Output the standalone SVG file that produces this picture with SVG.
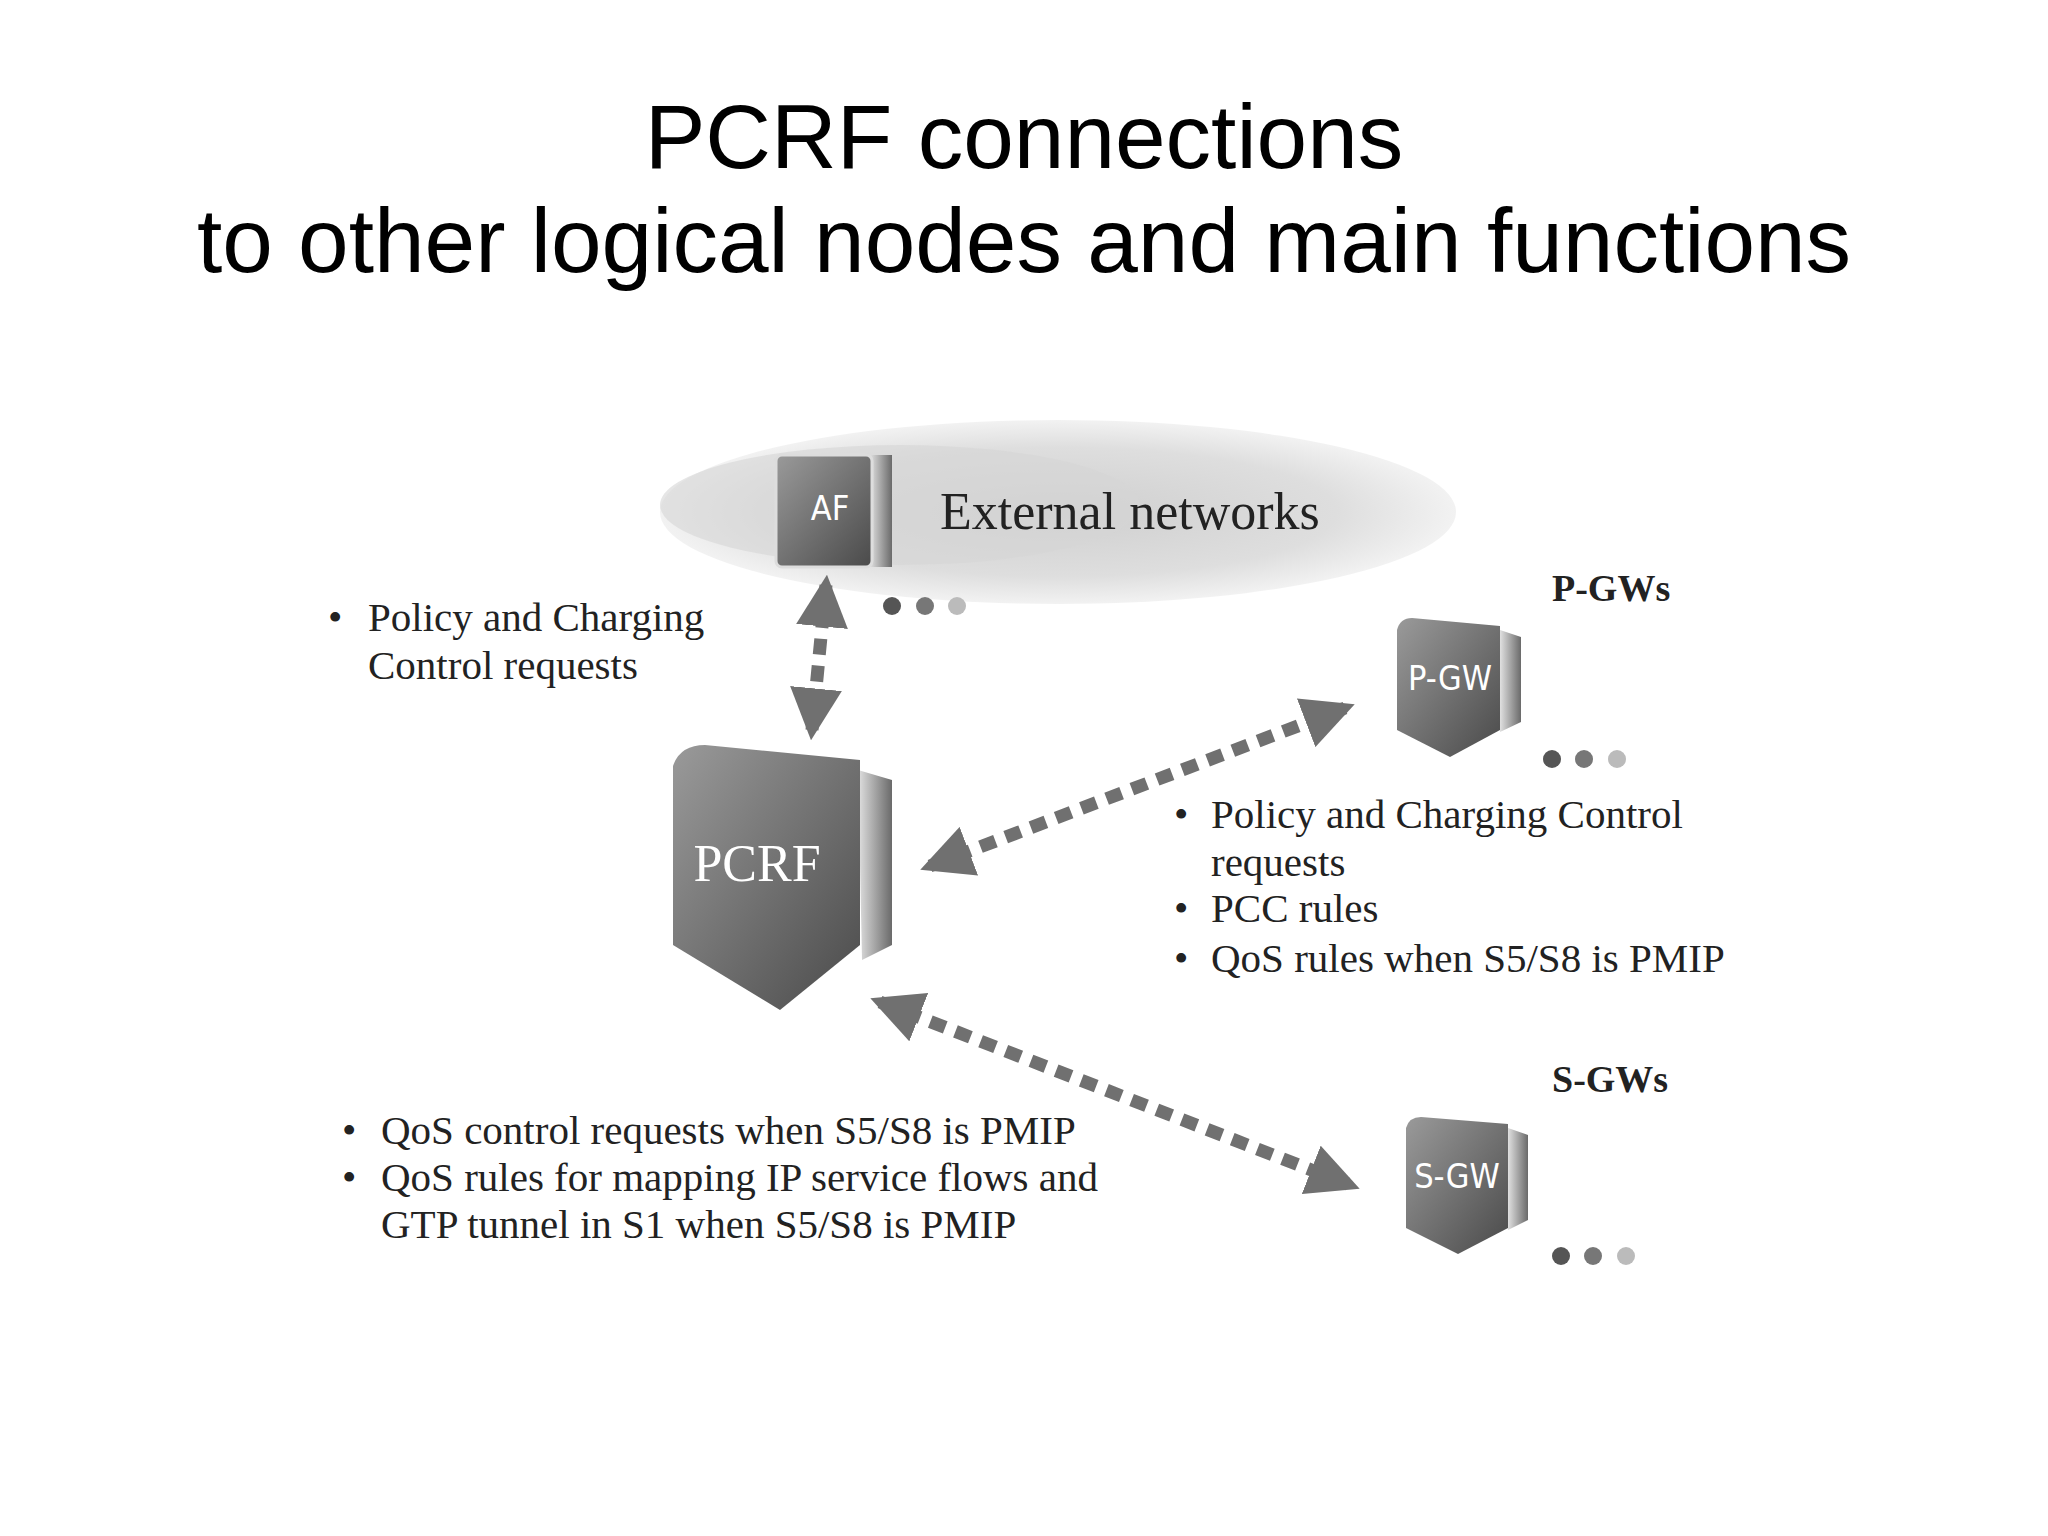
<svg xmlns="http://www.w3.org/2000/svg" width="2048" height="1536" viewBox="0 0 2048 1536">
<defs>
<style>
.t{font-family:"Liberation Serif",serif;font-size:41px;fill:#222}
.h{font-family:"Liberation Sans",sans-serif;font-size:91px;fill:#000;text-anchor:middle}
.b{font-family:"Liberation Serif",serif;font-size:38px;font-weight:bold;fill:#222}
.lbl{font-family:"DejaVu Sans Condensed","Liberation Sans",sans-serif;fill:#fff}
.con{stroke:#707070;stroke-width:13;stroke-dasharray:16 11;fill:none}
</style>
<linearGradient id="g" x1="0" y1="0" x2="1" y2="1"><stop offset="0" stop-color="#9a9a9a"/><stop offset="1" stop-color="#4a4a4a"/></linearGradient>
<linearGradient id="s" x1="0" y1="0" x2="1" y2="0"><stop offset="0" stop-color="#e0e0e0"/><stop offset="1" stop-color="#6a6a6a"/></linearGradient>
<radialGradient id="c" cx="0.5" cy="0.5" r="0.5"><stop offset="0" stop-color="#cfcfcf"/><stop offset="0.7" stop-color="#dedede"/><stop offset="1" stop-color="#f2f2f2"/></radialGradient>
<marker id="a" viewBox="0 0 10 10" refX="8" refY="5" markerWidth="4" markerHeight="4" orient="auto-start-reverse"><path d="M0,0L10,5L0,10z" fill="#707070"/></marker>
</defs>
<rect width="2048" height="1536" fill="#fff"/>
<text class="h" x="1024" y="168">PCRF connections</text>
<text class="h" x="1024" y="272">to other logical nodes and main functions</text>
<g id="cloud"><ellipse cx="1058" cy="512" rx="398" ry="92" fill="url(#c)"/><ellipse cx="900" cy="505" rx="240" ry="60" fill="#d6d6d6" opacity="0.6"/>
<text x="940" y="529" style="font-family:'Liberation Serif',serif;font-size:52px;fill:#222">External networks</text>
<circle cx="892" cy="606" r="9" fill="#555"/><circle cx="925" cy="606" r="9" fill="#777"/><circle cx="957" cy="606" r="9" fill="#bbb"/></g>
<g id="AF"><rect x="870" y="455" width="22" height="112" fill="url(#s)"/><rect x="776" y="455" width="96" height="112" rx="6" fill="url(#g)" stroke="#ddd" stroke-width="3"/>
<text class="lbl" x="830" y="520" font-size="34" text-anchor="middle">AF</text></g>
<g id="PCRF"><path d="M858,770 L892,780 L892,945 L862,960 Z" fill="url(#s)"/><path d="M673,766 Q680,745 705,745 L860,760 L860,945 L780,1010 L673,945 Z" fill="url(#g)"/>
<text x="757" y="881" font-family="Liberation Serif,serif" font-size="52" fill="#fff" text-anchor="middle">PCRF</text></g>
<g id="PGW"><path d="M1500,630 L1521,637 L1521,722 L1500,732 Z" fill="url(#s)"/><path d="M1397,630 Q1400,618 1412,618 L1500,626 L1500,730 L1450,757 L1397,730 Z" fill="url(#g)"/>
<text class="lbl" x="1450" y="690" font-size="34" text-anchor="middle">P-GW</text>
<text class="b" x="1552" y="601">P-GWs</text>
<circle cx="1552" cy="759" r="9" fill="#555"/><circle cx="1584" cy="759" r="9" fill="#777"/><circle cx="1617" cy="759" r="9" fill="#bbb"/></g>
<g id="SGW"><path d="M1508,1128 L1528,1135 L1528,1220 L1508,1230 Z" fill="url(#s)"/><path d="M1406,1128 Q1409,1117 1421,1117 L1508,1124 L1508,1228 L1458,1254 L1406,1228 Z" fill="url(#g)"/>
<text class="lbl" x="1457" y="1188" font-size="34" text-anchor="middle">S-GW</text>
<text class="b" x="1552" y="1092">S-GWs</text>
<circle cx="1561" cy="1256" r="9" fill="#555"/><circle cx="1593" cy="1256" r="9" fill="#777"/><circle cx="1626" cy="1256" r="9" fill="#bbb"/></g>
<g id="connectors">
<line class="con" x1="826" y1="585" x2="812" y2="730" marker-start="url(#a)" marker-end="url(#a)"/>
<line class="con" x1="930" y1="866" x2="1345" y2="708" marker-start="url(#a)" marker-end="url(#a)"/>
<line class="con" x1="880" y1="1002" x2="1350" y2="1185" marker-start="url(#a)" marker-end="url(#a)"/>
</g>
<g id="labels">
<text class="t" x="328" y="631">•</text><text class="t" x="368" y="631">Policy and Charging</text><text class="t" x="368" y="679">Control requests</text>
<text class="t" x="1174" y="828">•</text><text class="t" x="1211" y="828">Policy and Charging Control</text><text class="t" x="1211" y="876">requests</text>
<text class="t" x="1174" y="922">•</text><text class="t" x="1211" y="922">PCC rules</text>
<text class="t" x="1174" y="972">•</text><text class="t" x="1211" y="972">QoS rules when S5/S8 is PMIP</text>
<text class="t" x="342" y="1144">•</text><text class="t" x="381" y="1144">QoS control requests when S5/S8 is PMIP</text>
<text class="t" x="342" y="1191">•</text><text class="t" x="381" y="1191">QoS rules for mapping IP service flows and</text>
<text class="t" x="381" y="1238">GTP tunnel in S1 when S5/S8 is PMIP</text>
</g>
</svg>
